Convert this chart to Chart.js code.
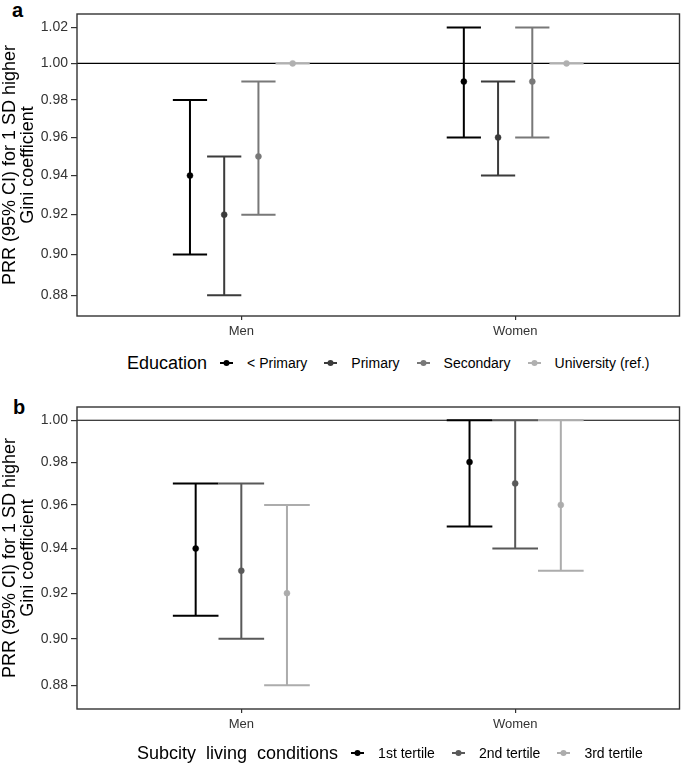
<!DOCTYPE html>
<html>
<head>
<meta charset="utf-8">
<script src="https://cdn.jsdelivr.net/npm/chart.js@4/dist/chart.umd.min.js"></script>
<style>
  html, body { margin: 0; padding: 0; background: #fff; }
  body { width: 684px; height: 766px; position: relative; overflow: hidden; font-family: "Liberation Sans", Arial, sans-serif; }
  .wrap { position: absolute; left: 0; width: 684px; }
  .panel-label { position: absolute; font-weight: bold; font-size: 20px; line-height: 20px; color: #000; }
  .legend { position: absolute; display: flex; align-items: center; height: 22px; color: #000; white-space: nowrap; }
  .legend .ttl { font-size: 18px; margin-right: 13px; }
  .legend .txt { font-size: 14px; margin-right: 17px; }
  .legend svg { display: block; margin-right: 14px; }
</style>
</head>
<body>
<div class="panel-label" style="left:12px; top:0px;">a</div>
<div class="wrap" style="top:0; height:345px;"><canvas id="chartA" width="684" height="345"></canvas></div>
<div class="legend" id="legendA" style="left:127px; top:352px;"></div>

<div class="panel-label" style="left:13px; top:397px;">b</div>
<div class="wrap" style="top:383px; height:360px;"><canvas id="chartB" width="684" height="360"></canvas></div>
<div class="legend" id="legendB" style="left:137px; top:742px;"></div>

<script>
// ---------- DATA ----------
const categories = ['Men', 'Women'];

// Panel a: Education
const educationTitle = 'Education';
const educationLevels = ['< Primary', 'Primary', 'Secondary', 'University (ref.)'];
const educationColors = ['#000000', '#3b3b3b', '#787878', '#b0b0b0'];
const eduEstimate = [[0.94, 0.99], [0.92, 0.96], [0.95, 0.99], [1.00, 1.00]];
const eduLower    = [[0.90, 0.96], [0.88, 0.94], [0.92, 0.96], [1.00, 1.00]];
const eduUpper    = [[0.98, 1.02], [0.95, 0.99], [0.99, 1.02], [1.00, 1.00]];
const ticksA = [0.88, 0.90, 0.92, 0.94, 0.96, 0.98, 1.00, 1.02];

// Panel b: Subcity living conditions
const subcityTitle = 'Subcity  living  conditions';
const subcityLevels = ['1st tertile', '2nd tertile', '3rd tertile'];
const subcityColors = ['#000000', '#595959', '#acacac'];
const subEstimate = [[0.94, 0.98], [0.93, 0.97], [0.92, 0.96]];
const subLower    = [[0.91, 0.95], [0.90, 0.94], [0.88, 0.93]];
const subUpper    = [[0.97, 1.00], [0.97, 1.00], [0.96, 1.00]];
const ticksB = [0.88, 0.90, 0.92, 0.94, 0.96, 0.98, 1.00];

const yTitle = ['PRR (95% CI) for 1 SD higher', 'Gini coefficient'];
const referenceValue = 1.00;
const dodgeWidth = 0.5;

// ---------- HELPERS ----------
Chart.defaults.font.family = '"Liberation Sans", Arial, sans-serif';

function buildDatasets(levels, colors, est, lo, hi) {
  const n = levels.length;
  const slot = dodgeWidth / n;
  return levels.map((lvl, g) => ({
    label: lvl,
    capWidth: slot,
    borderColor: colors[g],
    backgroundColor: colors[g],
    pointRadius: 3,
    pointBorderWidth: 0.5,
    showLine: false,
    data: categories.map((c, ci) => ({
      x: ci + 1 + (g - (n - 1) / 2) * slot,
      y: est[g][ci], lo: lo[g][ci], hi: hi[g][ci]
    }))
  }));
}

const errorBarPlugin = {
  id: 'errorBars',
  beforeDatasetsDraw(chart) {
    const { ctx, chartArea, scales: { x, y } } = chart;
    const ry = y.getPixelForValue(referenceValue);
    ctx.save();
    ctx.strokeStyle = '#000';
    ctx.lineWidth = 1.2;
    ctx.beginPath();
    ctx.moveTo(chartArea.left, ry);
    ctx.lineTo(chartArea.right, ry);
    ctx.stroke();
    ctx.restore();
    chart.data.datasets.forEach((ds) => {
      ds.data.forEach(pt => {
        const px = x.getPixelForValue(pt.x);
        const xl = x.getPixelForValue(pt.x - ds.capWidth / 2);
        const xr = x.getPixelForValue(pt.x + ds.capWidth / 2);
        const yl = y.getPixelForValue(pt.lo);
        const yh = y.getPixelForValue(pt.hi);
        ctx.save();
        ctx.strokeStyle = ds.borderColor;
        ctx.lineWidth = 2;
        ctx.beginPath();
        ctx.moveTo(px, yh); ctx.lineTo(px, yl);
        ctx.moveTo(xl, yh); ctx.lineTo(xr, yh);
        ctx.moveTo(xl, yl); ctx.lineTo(xr, yl);
        ctx.stroke();
        ctx.restore();
      });
    });
  },
  afterDraw(chart) {
    const { ctx, chartArea } = chart;
    ctx.save();
    ctx.strokeStyle = '#333';
    ctx.lineWidth = 1.4;
    ctx.strokeRect(chartArea.left, chartArea.top, chartArea.right - chartArea.left, chartArea.bottom - chartArea.top);
    ctx.restore();
  }
};

function makeChart(id, datasets, yTicks, yMin, yMax, padTop, xHeight) {
  return new Chart(document.getElementById(id), {
    type: 'scatter',
    data: { datasets },
    plugins: [errorBarPlugin],
    options: {
      responsive: false,
      animation: false,
      events: [],
      layout: { padding: { top: padTop, right: 2, left: 0, bottom: 0 } },
      plugins: { legend: { display: false }, tooltip: { enabled: false } },
      scales: {
        x: {
          type: 'linear', min: 0.4, max: 2.6,
          afterBuildTicks: s => { s.ticks = categories.map((c, i) => ({ value: i + 1 })); },
          afterFit: s => { s.height = xHeight; },
          ticks: {
            callback: (v) => categories[Math.round(v) - 1],
            font: { size: 13 }, color: '#333', padding: 4, maxRotation: 0, autoSkip: false
          },
          grid: { drawOnChartArea: false, drawTicks: true, tickLength: 4, color: '#333', lineWidth: 1.2 },
          border: { display: false }
        },
        y: {
          type: 'logarithmic', min: yMin, max: yMax,
          afterBuildTicks: s => { s.ticks = yTicks.map(v => ({ value: v })); },
          afterFit: s => { s.width = 77; },
          ticks: {
            callback: (v) => Number(v).toFixed(2),
            font: { size: 14 }, color: '#333', padding: 3, autoSkip: false
          },
          grid: { drawOnChartArea: false, drawTicks: true, tickLength: 6, color: '#333', lineWidth: 1.2 },
          border: { display: false },
          title: {
            display: true, text: yTitle, color: '#000',
            font: { size: 18, lineHeight: 1.0 }, padding: { top: 1, bottom: 0 }
          }
        }
      }
    }
  });
}

makeChart('chartA', buildDatasets(educationLevels, educationColors, eduEstimate, eduLower, eduUpper),
  ticksA, 0.8734, 1.0276, 14, 29);
makeChart('chartB', buildDatasets(subcityLevels, subcityColors, subEstimate, subLower, subUpper),
  ticksB, 0.8744, 1.0064, 24, 34);

const SVGNS = 'http://www.w3.org/2000/svg';
function legendSymbol(color) {
  const svg = document.createElementNS(SVGNS, 'svg');
  svg.setAttribute('width', '13'); svg.setAttribute('height', '10');
  const ln = document.createElementNS(SVGNS, 'line');
  ln.setAttribute('x1', '0'); ln.setAttribute('x2', '13');
  ln.setAttribute('y1', '5'); ln.setAttribute('y2', '5');
  ln.setAttribute('stroke', color); ln.setAttribute('stroke-width', '2');
  const c = document.createElementNS(SVGNS, 'circle');
  c.setAttribute('cx', '6.5'); c.setAttribute('cy', '5'); c.setAttribute('r', '3');
  c.setAttribute('fill', color);
  svg.appendChild(ln); svg.appendChild(c);
  return svg;
}
function buildLegend(id, title, levels, colors) {
  const el = document.getElementById(id);
  const t = document.createElement('span');
  t.className = 'ttl'; t.textContent = title; t.style.whiteSpace = 'pre';
  el.appendChild(t);
  levels.forEach((lvl, i) => {
    el.appendChild(legendSymbol(colors[i]));
    const tx = document.createElement('span'); tx.className = 'txt'; tx.textContent = lvl;
    el.appendChild(tx);
  });
}
buildLegend('legendA', educationTitle, educationLevels, educationColors);
buildLegend('legendB', subcityTitle, subcityLevels, subcityColors);
</script>
</body>
</html>
